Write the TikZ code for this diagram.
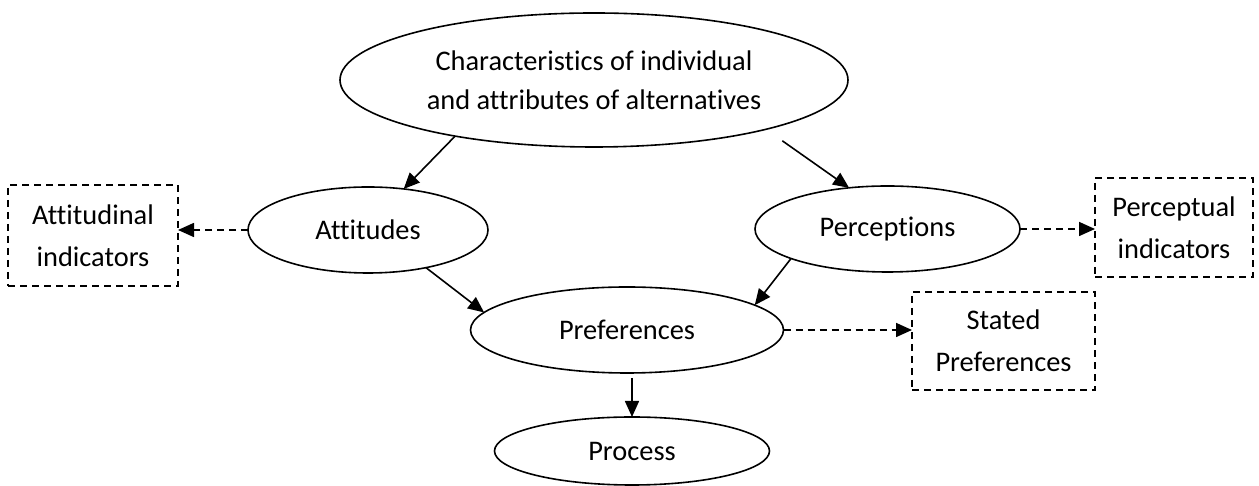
\documentclass[tikz,border=0pt]{standalone}
\usepackage{fontspec}
\setmainfont{Carlito}[Ligatures={NoCommon}]
\usetikzlibrary{shapes.geometric,arrows.meta,calc}
\begin{document}
\begin{tikzpicture}[x=0.5pt,y=0.5pt,
  every node/.style={font=\fontsize{14.2}{19.5}\selectfont, align=center, inner sep=0pt, outer sep=0pt},
  oval/.style={ellipse, draw, line width=0.8pt},
  dbox/.style={rectangle, draw, dash pattern=on 3.5pt off 2.5pt, line width=0.8pt, font=\fontsize{14.2}{21}\selectfont},
  solidarrow/.style={line width=0.8pt, -{Triangle[length=8pt,width=7pt]}},
  dasharrow/.style={line width=0.8pt, dash pattern=on 3.5pt off 2.5pt, -{Triangle[length=8pt,width=7pt]}}
]
\useasboundingbox (0,0) rectangle (1259,486);
\node[oval, minimum width=254pt, minimum height=67pt] (top) at (594,406) {Characteristics of individual\\and attributes of alternatives};
\node[oval, minimum width=120pt, minimum height=43pt] (att) at (368,256) {Attitudes};
\node[oval, minimum width=132.5pt, minimum height=43pt] (perc) at (887.5,257) {Perceptions};
\node[oval, minimum width=156.5pt, minimum height=43pt] (pref) at (627,156) {Preferences};
\node[oval, minimum width=137.5pt, minimum height=34pt] (proc) at (632,35) {Process};
\node[dbox, minimum width=85pt, minimum height=50.5pt] (attbox) at (93,250.5) {Attitudinal\\indicators};
\node[dbox, minimum width=79pt, minimum height=49.5pt] (percbox) at (1174,258.5) {Perceptual\\indicators};
\node[dbox, minimum width=91.5pt, minimum height=49pt] (statbox) at (1003.5,145) {Stated\\Preferences};

\draw[solidarrow] (top.202.3) -- (att.49.6);
\draw[solidarrow, shorten <=10pt] (top.344.5) -- (perc.133.6);
\draw[solidarrow] (att.327.2) -- (pref.173);
\draw[solidarrow] (perc.197.5) -- (pref.11.7);
\draw[solidarrow, shorten <=2.5pt] (proc.north |- pref.south) -- (proc.north);
\draw[dasharrow] (att.west) -- (att.west -| attbox.east);
\draw[dasharrow] (perc.east) -- (perc.east -| percbox.west);
\draw[dasharrow] (pref.east) -- (pref.east -| statbox.west);
\end{tikzpicture}
\end{document}
